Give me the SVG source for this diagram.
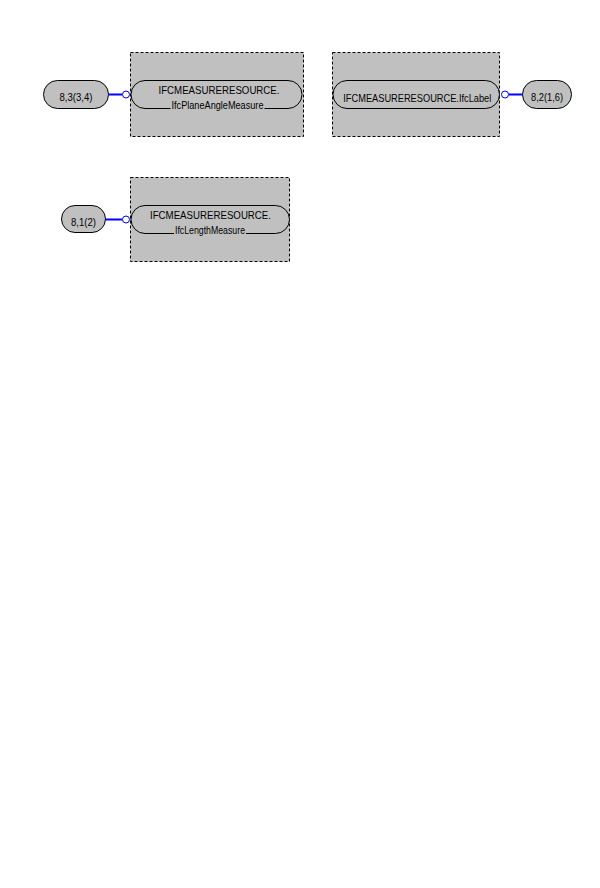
<svg xmlns="http://www.w3.org/2000/svg" width="600" height="888" viewBox="0 0 600 888">
<style>
.box{fill:#c0c0c0;stroke:#000;stroke-width:1;stroke-dasharray:3,2}
.pill{fill:#c0c0c0;stroke:#000;stroke-width:1}
.node{fill:#c0c0c0;stroke:#000;stroke-width:1}
.t{font-family:"Liberation Sans",Arial,sans-serif;font-size:11px;fill:#000}
.c{text-anchor:middle}
.bg{fill:#c0c0c0;stroke:none}
.ln{stroke:#0000ff;stroke-width:2;fill:none}
.dot{stroke:#0000ff;stroke-width:1;fill:#fff}
</style>
<rect x="0" y="0" width="600" height="888" fill="#fff"/>
<g id="box-plane-angle">
<rect class="box" x="130.5" y="52.5" width="173" height="84"/>
<rect class="pill" x="131" y="80.5" width="171" height="28" rx="14" ry="14"/>
<text class="t" x="158.5" y="94" textLength="121" lengthAdjust="spacingAndGlyphs">IFCMEASURERESOURCE.</text>
<rect class="bg" x="170.5" y="100" width="94" height="10"/>
<text class="t" x="171.5" y="108.5" textLength="92" lengthAdjust="spacingAndGlyphs">IfcPlaneAngleMeasure</text>
</g>
<g id="box-label">
<rect class="box" x="332.5" y="52.5" width="167" height="84"/>
<rect class="pill" x="333" y="80.5" width="166.5" height="28" rx="14" ry="14"/>
<text class="t" x="343.3" y="101.5" textLength="148" lengthAdjust="spacingAndGlyphs">IFCMEASURERESOURCE.IfcLabel</text>
</g>
<g id="box-length">
<rect class="box" x="130.5" y="177.5" width="159" height="84"/>
<rect class="pill" x="131" y="205.5" width="158.5" height="28" rx="14" ry="14"/>
<text class="t" x="150" y="219" textLength="121" lengthAdjust="spacingAndGlyphs">IFCMEASURERESOURCE.</text>
<rect class="bg" x="174" y="225" width="72" height="10"/>
<text class="t" x="175" y="233.5" textLength="70" lengthAdjust="spacingAndGlyphs">IfcLengthMeasure</text>
</g>
<g id="node-8-3">
<rect class="node" x="43.5" y="80.5" width="65" height="28" rx="14" ry="14"/>
<text class="t c" x="76" y="101" textLength="33" lengthAdjust="spacingAndGlyphs">8,3(3,4)</text>
</g>
<g id="node-8-2">
<rect class="node" x="522.5" y="80.5" width="49" height="28" rx="14" ry="14"/>
<text class="t c" x="547" y="101" textLength="32" lengthAdjust="spacingAndGlyphs">8,2(1,6)</text>
</g>
<g id="node-8-1">
<rect class="node" x="61.5" y="205.5" width="44" height="27" rx="13.5" ry="13.5"/>
<text class="t c" x="83.5" y="226" textLength="25" lengthAdjust="spacingAndGlyphs">8,1(2)</text>
</g>
<g id="connectors">
<line class="ln" x1="108.5" y1="94.5" x2="122.5" y2="94.5"/>
<circle class="dot" cx="126" cy="94.5" r="3.5"/>
<line class="ln" x1="508.5" y1="94.5" x2="522.5" y2="94.5"/>
<circle class="dot" cx="505" cy="94.5" r="3.5"/>
<line class="ln" x1="105.5" y1="219.5" x2="122.5" y2="219.5"/>
<circle class="dot" cx="126" cy="219.5" r="3.5"/>
</g>
</svg>
